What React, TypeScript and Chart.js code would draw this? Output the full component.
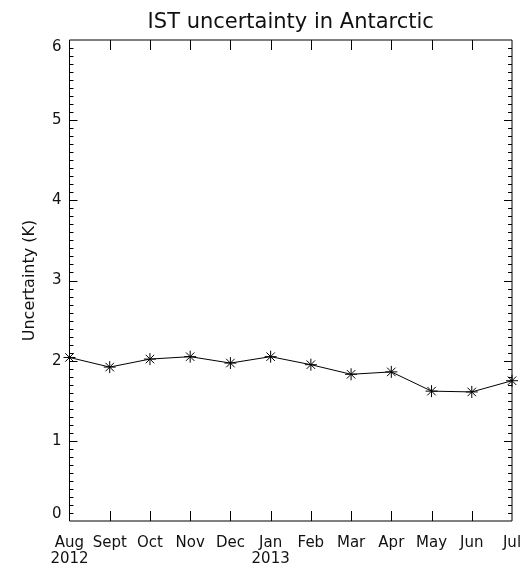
import React, { useEffect, useRef } from "react";
import { Chart, registerables } from "chart.js";

Chart.register(...registerables);

const months = ["Aug", "Sept", "Oct", "Nov", "Dec", "Jan", "Feb", "Mar", "Apr", "May", "Jun", "Jul"];
const years = ["2012", "", "", "", "", "2013", "", "", "", "", "", ""];
const uncertainty = [2.04, 1.92, 2.02, 2.05, 1.97, 2.05, 1.95, 1.83, 1.86, 1.62, 1.61, 1.75];
const yTickValues = [0, 1, 2, 3, 4, 5, 6];
const yMinorPerMajor = 10;
const titleText = "IST uncertainty in Antarctic";
const yTitleText = "Uncertainty (K)";

const FONT = "'DejaVu Sans', sans-serif";
const INK = "#111";

const framePlugin = {
  id: "idlFrame",
  afterDraw(chart: any) {
    const { ctx, chartArea } = chart;
    const { left, right, top, bottom } = chartArea;
    const xs = chart.scales.x;
    const ys = chart.scales.y;
    ctx.save();
    ctx.strokeStyle = "#000";
    ctx.lineWidth = 1;
    ctx.beginPath();
    ctx.rect(left, top, right - left, bottom - top);
    ctx.stroke();
    ctx.beginPath();
    for (let i = 1; i < months.length - 1; i++) {
      const px = Math.round(xs.getPixelForValue(i)) + 0.5;
      ctx.moveTo(px, bottom);
      ctx.lineTo(px, bottom - 10);
      ctx.moveTo(px, top);
      ctx.lineTo(px, top + 10);
    }
    const yMin = yTickValues[0];
    const yMax = yTickValues[yTickValues.length - 1];
    const n = (yMax - yMin) * yMinorPerMajor;
    for (let k = 1; k < n; k++) {
      const v = yMin + k / yMinorPerMajor;
      const py = Math.round(ys.getPixelForValue(v)) + 0.5;
      const len = k % yMinorPerMajor === 0 ? 8 : 4;
      ctx.moveTo(left, py);
      ctx.lineTo(left + len, py);
      ctx.moveTo(right, py);
      ctx.lineTo(right - len, py);
    }
    ctx.stroke();
    ctx.fillStyle = INK;
    ctx.font = `15px ${FONT}`;
    ctx.textAlign = "right";
    ctx.textBaseline = "middle";
    for (const v of yTickValues) {
      let py = ys.getPixelForValue(v);
      py = Math.min(Math.max(py, top + 7), bottom - 7);
      ctx.fillText(String(v), left - 8, py);
    }
    ctx.restore();
  },
};

export default function App() {
  const ref = useRef<HTMLCanvasElement | null>(null);
  useEffect(() => {
    if (!ref.current) return;
    const labels = months.map((m, i) => (years[i] ? [m, years[i]] : m));
    const chart = new Chart(ref.current, {
      type: "line",
      data: {
        labels,
        datasets: [
          {
            data: uncertainty,
            borderColor: "#000",
            borderWidth: 1,
            pointStyle: "star",
            pointRadius: 6,
            pointBorderColor: "#000",
            pointBorderWidth: 1,
            pointBackgroundColor: "#000",
            tension: 0,
            clip: false,
          },
        ],
      },
      options: {
        responsive: false,
        animation: false,
        layout: { padding: { left: 0, right: 15, top: 0, bottom: 0 } },
        plugins: {
          legend: { display: false },
          tooltip: { enabled: false },
          title: {
            display: true,
            text: titleText,
            fullSize: false,
            color: INK,
            font: { family: FONT, size: 21, weight: "normal", lineHeight: 1.2 },
            padding: { top: 10, bottom: 4.8 },
          },
        },
        scales: {
          x: {
            type: "category",
            offset: false,
            grid: { display: false },
            border: { display: false },
            ticks: {
              autoSkip: false,
              maxRotation: 0,
              minRotation: 0,
              padding: 6,
              color: INK,
              font: { family: FONT, size: 15, lineHeight: 16 / 15 },
            },
            afterFit: (s: any) => {
              s.height = 44;
              s.paddingLeft = 0;
              s.paddingRight = 0;
            },
          },
          y: {
            min: yTickValues[0],
            max: yTickValues[yTickValues.length - 1],
            grid: { display: false },
            border: { display: false },
            ticks: { display: false, stepSize: 1 },
            title: {
              display: true,
              text: yTitleText,
              color: INK,
              font: { family: FONT, size: 16, lineHeight: 1.2 },
              padding: { top: 20.4, bottom: 0 },
            },
            afterFit: (s: any) => {
              s.width = 69.5;
            },
          },
        },
      },
      plugins: [framePlugin],
    });
    return () => chart.destroy();
  }, []);
  return (
    <div style={{ position: "absolute", left: 0, top: 0, width: 527, height: 565, background: "#fff" }}>
      <canvas ref={ref} width={527} height={565} style={{ display: "block" }} />
    </div>
  );
}
